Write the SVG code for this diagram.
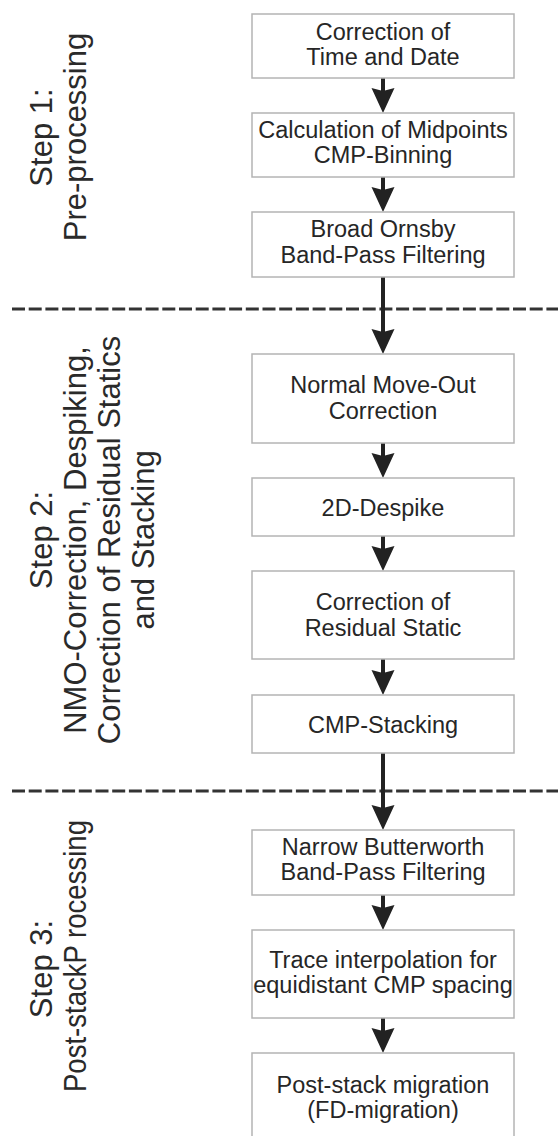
<svg xmlns="http://www.w3.org/2000/svg" width="558" height="1136" viewBox="0 0 558 1136">
<style>
.box{fill:#fff;stroke:#b4b4b4;stroke-width:1.5}
.t{font-family:"Liberation Sans",Arial,sans-serif;font-size:23.5px;fill:#262626;text-anchor:middle}
.s{font-family:"Liberation Sans",Arial,sans-serif;font-size:31px;fill:#2a2a2a;text-anchor:middle}
.arr{stroke:#222;stroke-width:4;fill:none;marker-end:url(#ah)}
.dash{stroke:#333;stroke-width:3;stroke-dasharray:13 3.7;fill:none}
</style>
<defs>
<marker id="ah" markerUnits="userSpaceOnUse" markerWidth="26" markerHeight="24" viewBox="0 -12 26 24" refX="15" refY="0" orient="auto">
<path d="M0,-11.5 L25,0 L0,11.5 L3,0 Z" fill="#222"/>
</marker>
</defs>
<rect width="558" height="1136" fill="#fff"/>
<g id="dividers">
<line class="dash" x1="12" y1="309" x2="558" y2="309"/>
<line class="dash" x1="12" y1="791" x2="558" y2="791"/>
</g>
<g id="labels">
<text class="s" transform="translate(52,137.5) rotate(-90)">Step 1:</text>
<text class="s" transform="translate(86,137) rotate(-90)">Pre-processing</text>
<text class="s" transform="translate(52,540) rotate(-90)">Step 2:</text>
<text class="s" transform="translate(86,540) rotate(-90)">NMO-Correction, Despiking,</text>
<text class="s" transform="translate(120,540) rotate(-90)">Correction of Residual Statics</text>
<text class="s" transform="translate(154,540) rotate(-90)">and Stacking</text>
<text class="s" transform="translate(52,969) rotate(-90)">Step 3:</text>
<text class="s" transform="translate(86,956) rotate(-90)" textLength="272" lengthAdjust="spacingAndGlyphs">Post-stackP rocessing</text>
</g>
<g id="connectors">
<line class="arr" x1="383" y1="78" x2="383" y2="103"/>
<line class="arr" x1="383" y1="177" x2="383" y2="202"/>
<line class="arr" x1="383" y1="277" x2="383" y2="344"/>
<line class="arr" x1="383" y1="443" x2="383" y2="468"/>
<line class="arr" x1="383" y1="536" x2="383" y2="561"/>
<line class="arr" x1="383" y1="659" x2="383" y2="685"/>
<line class="arr" x1="383" y1="753" x2="383" y2="820"/>
<line class="arr" x1="383" y1="895" x2="383" y2="920"/>
<line class="arr" x1="383" y1="1018" x2="383" y2="1043"/>
</g>
<g id="n1"><rect class="box" x="252" y="14" width="262" height="64"/><text class="t" x="383" y="39.5">Correction of</text><text class="t" x="383" y="65">Time and Date</text></g>
<g id="n2"><rect class="box" x="252" y="113" width="262" height="64"/><text class="t" x="383" y="137.5">Calculation of Midpoints</text><text class="t" x="383" y="163">CMP-Binning</text></g>
<g id="n3"><rect class="box" x="252" y="212" width="262" height="65"/><text class="t" x="383" y="237">Broad Ornsby</text><text class="t" x="383" y="263">Band-Pass Filtering</text></g>
<g id="n4"><rect class="box" x="252" y="354" width="262" height="89"/><text class="t" x="383" y="393">Normal Move-Out</text><text class="t" x="383" y="419">Correction</text></g>
<g id="n5"><rect class="box" x="252" y="478" width="262" height="58"/><text class="t" x="383" y="516">2D-Despike</text></g>
<g id="n6"><rect class="box" x="252" y="571" width="262" height="88"/><text class="t" x="383" y="610">Correction of</text><text class="t" x="383" y="636">Residual Static</text></g>
<g id="n7"><rect class="box" x="252" y="695" width="262" height="58"/><text class="t" x="383" y="733">CMP-Stacking</text></g>
<g id="n8"><rect class="box" x="252" y="830" width="262" height="65"/><text class="t" x="383" y="855">Narrow Butterworth</text><text class="t" x="383" y="880">Band-Pass Filtering</text></g>
<g id="n9"><rect class="box" x="252" y="930" width="262" height="88"/><text class="t" x="383" y="967.5">Trace interpolation for</text><text class="t" x="383" y="993">equidistant CMP spacing</text></g>
<g id="n10"><rect class="box" x="252" y="1053" width="262" height="90"/><text class="t" x="383" y="1093">Post-stack migration</text><text class="t" x="383" y="1118">(FD-migration)</text></g>
</svg>
